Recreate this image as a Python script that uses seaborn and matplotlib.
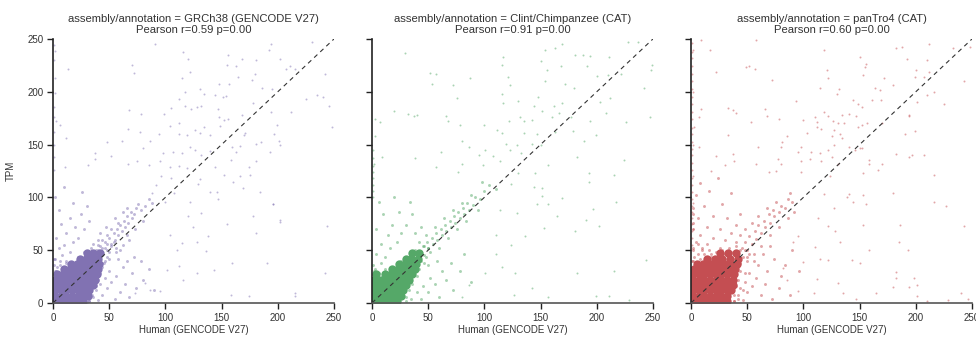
import matplotlib
matplotlib.use("Agg")
import matplotlib.pyplot as plt
import seaborn as sns

sns.set_style("ticks")
plt.rcParams["font.family"] = ["Liberation Sans", "DejaVu Sans"]

# ---- panel labels -------------------------------------------------------
assemblies = ["GRCh38 (GENCODE V27)", "Clint/Chimpanzee (CAT)", "panTro4 (CAT)"]
pearson_r = [0.59, 0.91, 0.60]
pearson_p = [0.00, 0.00, 0.00]
colors = ["#8172B2", "#55A868", "#C44E52"]
ticks = [0, 50, 100, 150, 200, 250]

# ---- GRCh38: scattered genes -------------------------------------------
grch38_x = [2, 91, 116, 120, 156, 168, 181, 192, 194, 202, 230, 13, 70, 72, 122, 155, 163, 165, 177, 180,
            207, 211, 215, 242, 2, 2, 115, 131, 134, 144, 148, 151, 157, 154, 186, 225, 235, 240, 246, 248,
            112, 117, 105, 117, 123, 128, 132, 147, 148, 156, 168, 178, 194, 212, 68, 78, 99, 6, 3, 12,
            48, 61, 67, 77, 86, 80, 94, 104, 112, 112, 119, 126, 131, 134, 140, 149, 152, 159, 166, 170,
            185, 197, 199, 201, 202, 98, 107, 115, 122, 126, 132, 140, 158, 163, 181, 193, 37, 37, 52, 31,
            67, 75, 85, 95, 104, 112, 144, 174, 11, 155, 181, 202, 244, 196, 169, 184, 166, 175, 152, 140,
            146, 129, 190, 174, 215, 215, 242, 159, 143, 136, 128, 138, 125, 120, 132, 122, 112, 116, 158, 101,
            95, 110, 115, 104, 128, 82, 73, 86, 178, 119, 131, 147, 160, 171, 181, 196, 202, 195, 105, 92,
            88, 100, 96, 108, 1, 1, 1, 1, 1, 1, 1, 1]
grch38_y = [239, 245, 238, 231, 235, 231, 230, 240, 245, 231, 247, 222, 225, 218, 219, 225, 224, 214, 211, 217,
            222, 224, 222, 217, 213, 199, 213, 203, 198, 197, 207, 195, 207, 196, 204, 193, 197, 195, 187, 167,
            193, 200, 185, 187, 184, 186, 187, 184, 176, 174, 178, 189, 181, 181, 183, 179, 179, 169, 172, 156,
            152, 153, 165, 162, 153, 147, 160, 168, 170, 160, 159, 164, 161, 167, 159, 168, 173, 148, 149, 159,
            152, 160, 169, 153, 150, 142, 143, 142, 148, 145, 140, 144, 135, 143, 134, 143, 142, 136, 139, 131,
            132, 134, 131, 134, 129, 130, 129, 129, 129, 75, 66, 77, 73, 94, 109, 105, 120, 121, 121, 105,
            105, 113, 38, 7, 9, 7, 28, 38, 31, 49, 58, 63, 72, 82, 85, 96, 35, 22, 8, 31,
            11, 50, 57, 64, 28, 19, 9, 12, 82, 128, 117, 98, 115, 161, 151, 94, 79, 203, 118, 112,
            104, 96, 120, 104, 126, 138, 150, 162, 176, 186, 230, 244]

# GRCh38: halo around the dense cloud
grch38_halo_x = [44, 48, 46, 52, 50, 55, 54, 58, 57, 61, 60, 64, 63, 67, 66, 70, 69, 72, 74, 78,
                 76, 82, 85, 88, 80, 73, 68, 62, 56, 50, 45, 60, 66, 58, 52, 48, 44, 40, 38, 36,
                 42, 47, 55, 62, 66, 3, 6, 2, 8, 12, 5, 10, 15, 18, 3, 12, 22, 7, 20, 28,
                 15, 25, 32, 5, 18, 30, 2, 10, 26, 32, 36, 40, 38, 44, 42, 48, 46, 52, 50, 56,
                 60, 55, 64, 62, 70, 68, 74, 80, 78, 72, 66, 85, 90, 58,
                 38, 34, 44, 40, 46, 36, 50, 48, 42, 30, 26, 20, 14, 8, 4, 2, 0.5, 1, 32, 35,
                 38, 40, 42, 44, 46, 30, 34, 36, 40, 52, 54, 56, 48, 44, 22, 12, 6, 28, 34, 40]
grch38_halo_y = [52, 50, 58, 56, 62, 60, 66, 64, 70, 68, 74, 72, 78, 76, 82, 80, 86, 84, 90, 88,
                 94, 92, 98, 95, 78, 70, 60, 55, 48, 42, 38, 50, 64, 76, 70, 64, 60, 55, 50, 56,
                 66, 72, 80, 86, 90, 30, 36, 42, 45, 40, 52, 55, 48, 58, 62, 66, 62, 75, 72, 70,
                 80, 84, 78, 88, 95, 92, 100, 110, 105, 2, 6, 3, 12, 8, 18, 14, 24, 20, 30, 26,
                 10, 4, 18, 34, 28, 6, 14, 22, 40, 44, 40, 32, 12, 42,
                 44, 42, 46, 50, 52, 48, 48, 56, 54, 44, 40, 38, 34, 32, 34, 30, 36, 42, 2, 8,
                 16, 22, 28, 34, 40, 0.5, 14, 20, 40, 54, 58, 52, 44, 38, 44, 38, 40, 48, 52, 60]

# GRCh38: dense low-expression cloud
grch38_core_x = [2, 7, 12, 17, 22, 27, 2, 7, 12, 17, 22, 27, 31, 2, 7, 12, 17, 22, 27, 32,
                 2, 7, 12, 17, 22, 27, 32, 36, 2, 7, 12, 17, 22, 27, 32, 37, 4, 9, 14, 19,
                 24, 29, 34, 39, 10, 15, 20, 25, 30, 35, 40, 16, 21, 26, 31, 36, 41, 24, 29, 34,
                 40, 30, 36, 42]
grch38_core_y = [2, 2, 2, 2, 2, 2, 7, 7, 7, 7, 7, 7, 7, 12, 12, 12, 12, 12, 12, 12,
                 17, 17, 17, 17, 17, 17, 17, 17, 22, 22, 22, 22, 22, 22, 22, 22, 27, 27, 27, 27,
                 27, 27, 27, 27, 32, 32, 32, 32, 32, 32, 32, 37, 37, 37, 37, 37, 37, 42, 42, 42,
                 42, 47, 47, 47]

# ---- Clint/Chimpanzee: scattered genes ---------------------------------
clint_x = [29, 117, 116, 154, 163, 169, 150, 156, 168, 181, 188, 194, 191, 211, 228, 237, 249, 248, 52, 57,
           53, 72, 87, 121, 123, 154, 172, 180, 200, 210, 222, 242, 76, 116, 117, 130, 144, 148, 162, 169,
           203, 212, 20, 32, 37, 40, 66, 68, 78, 3, 7, 3, 100, 111, 116, 122, 132, 135, 142, 151,
           160, 166, 177, 194, 208, 226, 247, 199, 189, 179, 163, 147, 135, 80, 61, 86, 95, 101, 108, 119,
           123, 129, 133, 142, 150, 182, 224, 157, 57, 80, 99, 114, 38, 9, 2, 77, 244, 215, 217, 202,
           181, 190, 197, 215, 193, 193, 169, 153, 165, 182, 199, 211, 229, 157, 142, 126, 127, 116, 110, 101,
           124, 136, 129, 147, 151, 157, 144, 124, 130, 145, 151, 114, 110, 86, 80, 1, 1, 1, 1, 1,
           1, 1, 1]
clint_y = [237, 233, 225, 240, 241, 245, 229, 221, 224, 235, 235, 234, 224, 233, 247, 247, 225, 221, 218, 217,
           207, 206, 213, 214, 206, 210, 207, 204, 215, 216, 217, 204, 194, 198, 189, 191, 187, 195, 187, 189,
           190, 194, 182, 179, 177, 178, 177, 172, 169, 174, 171, 158, 169, 164, 161, 172, 176, 172, 173, 182,
           176, 180, 176, 172, 180, 171, 176, 159, 153, 163, 162, 160, 161, 153, 143, 148, 140, 145, 139, 151,
           145, 150, 142, 151, 150, 138, 135, 131, 129, 132, 131, 134, 137, 138, 132, 124, 41, 30, 96, 73,
           68, 79, 89, 121, 115, 123, 99, 71, 82, 28, 7, 7, 3, 6, 14, 8, 28, 34, 46, 28,
           55, 63, 85, 94, 101, 94, 110, 113, 123, 123, 109, 88, 64, 17, 6, 100, 106, 112, 118, 124,
           130, 137, 145]

# Clint/Chimpanzee: halo around the dense cloud
clint_halo_x = [42, 46, 45, 50, 49, 54, 53, 58, 57, 62, 61, 66, 65, 70, 69, 74, 73, 78, 77, 82,
                81, 86, 85, 90, 92, 96, 100, 88, 80, 72, 64, 56, 48, 42, 60, 68, 76, 84, 94, 104,
                110, 98, 3, 8, 4, 12, 16, 8, 22, 14, 26, 4, 18, 30, 10, 24, 36, 6, 20, 34,
                44, 38, 35, 40, 44, 45, 50, 52, 56, 60, 62, 66, 72, 70, 78, 82, 88, 58, 50,
                36, 40, 44, 32, 28, 22, 16, 10, 6, 2, 1, 30, 33, 36, 40, 42, 46, 48, 30, 38,
                34, 26, 50, 52, 44, 20, 12, 40, 46, 28]
clint_halo_y = [48, 45, 54, 52, 58, 56, 62, 60, 66, 64, 70, 68, 74, 72, 78, 76, 82, 80, 86, 84,
                90, 88, 95, 93, 100, 98, 106, 102, 95, 88, 80, 72, 64, 58, 52, 62, 70, 78, 88, 112,
                108, 115, 32, 38, 46, 44, 52, 56, 58, 64, 66, 70, 74, 74, 84, 86, 84, 96, 100, 96,
                72, 66, 4, 10, 4, 16, 10, 24, 18, 6, 30, 22, 12, 38, 30, 46, 20, 40, 36,
                40, 44, 48, 38, 36, 34, 30, 28, 28, 30, 36, 6, 12, 18, 26, 32, 38, 44, 2, 50,
                46, 40, 52, 48, 40, 30, 32, 36, 54, 30]

# Clint/Chimpanzee: dense low-expression cloud
clint_core_x = [2, 7, 12, 17, 22, 2, 7, 12, 17, 22, 26, 3, 8, 13, 18, 23, 28, 1, 5, 10,
                15, 20, 25, 30, 2, 8, 13, 18, 23, 28, 33, 4, 12, 17, 22, 27, 32, 36, 18, 23,
                28, 33, 38, 24, 29, 34, 39, 30, 35, 41, 36, 42]
clint_core_y = [2, 2, 2, 2, 2, 7, 7, 7, 7, 7, 7, 12, 12, 12, 12, 12, 12, 17, 17, 17,
                17, 17, 17, 17, 22, 22, 22, 22, 22, 22, 22, 27, 27, 27, 27, 27, 27, 27, 32, 32,
                32, 32, 32, 37, 37, 37, 37, 42, 42, 42, 47, 47]

# ---- panTro4: scattered genes -------------------------------------------
pantro4_x = [9, 58, 2, 17, 49, 52, 57, 22, 72, 118, 150, 156, 155, 121, 122, 153, 182, 188, 212, 233,
             248, 192, 210, 200, 212, 172, 180, 199, 207, 243, 115, 132, 164, 168, 130, 144, 161, 169, 210, 216,
             225, 149, 152, 201, 93, 33, 37, 40, 66, 68, 9, 7, 78, 53, 33, 7, 3, 100, 110, 118,
             122, 126, 134, 141, 147, 131, 136, 112, 112, 116, 127, 152, 149, 157, 170, 194, 194, 190, 199, 85,
             103, 125, 134, 133, 150, 152, 146, 141, 127, 122, 115, 107, 98, 95, 81, 80, 98, 106, 116, 125,
             131, 158, 158, 170, 182, 194, 197, 207, 60, 37, 38, 22, 30, 58, 77, 80, 69, 76, 98, 18,
             243, 227, 216, 180, 156, 153, 186, 185, 193, 182, 182, 194, 201, 201, 210, 229, 240, 246, 158, 143,
             150, 133, 128, 122, 139, 144, 127, 153, 166, 153, 216, 118, 113, 110, 115, 122, 131, 135, 147, 112,
             100, 109, 165, 180, 198, 85, 95, 82, 91, 95, 124, 141,
             0.5, 0.5, 0.5, 0.5, 0.5, 0.5, 0.5, 0.5, 0.5, 0.5, 0.5, 0.5, 0.5, 0.5, 0.5, 0.5, 0.5, 0.5, 0.5, 0.5,
             0.5, 0.5, 0.5, 0.5, 0.5, 0.5, 0.5, 0.5, 0.5, 1.5, 1.5, 1.5, 1.5, 1.5]
pantro4_y = [249, 249, 240, 240, 223, 224, 222, 219, 211, 240, 233, 226, 223, 221, 213, 216, 241, 242, 245, 241,
             242, 231, 230, 221, 219, 213, 206, 214, 214, 210, 204, 203, 204, 202, 198, 192, 192, 192, 197, 200,
             188, 188, 186, 190, 191, 185, 183, 180, 184, 177, 184, 176, 174, 171, 159, 148, 167, 173, 176, 181,
             177, 172, 178, 179, 177, 170, 170, 171, 167, 165, 164, 169, 167, 170, 170, 178, 177, 160, 163, 158,
             161, 158, 156, 160, 147, 147, 145, 148, 150, 145, 142, 143, 148, 143, 152, 148, 134, 136, 134, 138,
             132, 135, 132, 132, 141, 138, 140, 140, 148, 141, 134, 139, 131, 132, 136, 132, 124, 125, 124, 125,
             73, 92, 96, 104, 94, 74, 74, 58, 50, 29, 24, 15, 17, 7, 2, 3, 9, 4, 50, 41,
             38, 58, 68, 73, 100, 96, 90, 102, 126, 123, 121, 103, 80, 53, 42, 41, 19, 9, 4, 23,
             39, 9, 9, 15, 24, 22, 11, 33, 58, 63, 120, 103,
             55, 62, 68, 75, 80, 86, 92, 98, 105, 112, 118, 126, 133, 140, 146, 152, 160, 166, 174, 181,
             188, 195, 203, 210, 217, 224, 232, 238, 246, 70, 95, 120, 150, 200]

# panTro4: halo around the dense cloud
pantro4_halo_x = [45, 50, 48, 54, 52, 58, 57, 62, 60, 66, 65, 70, 69, 74, 73, 78, 80, 84, 86, 90,
                  88, 76, 68, 60, 54, 48, 44, 40, 62, 70, 78, 86, 92, 56, 50, 2, 6, 2, 10, 4,
                  14, 8, 20, 2, 14, 26, 6, 20, 32, 2, 12, 28, 4, 16, 36, 8, 24, 2, 2, 18,
                  26, 30, 36, 40, 44, 38, 42, 46, 44, 50, 48, 54, 52, 58, 62, 60, 66, 68, 72, 74,
                  78, 80, 84, 88, 64, 56, 90, 96, 70,
                  0.5, 3, 8, 12, 18, 22, 28, 34, 40, 44, 46, 44, 44, 42, 40, 38, 38, 42, 46, 48,
                  50, 2, 6, 10, 16, 30, 36, 48, 52, 42]
pantro4_halo_y = [52, 50, 58, 56, 63, 61, 68, 66, 74, 72, 78, 76, 84, 82, 88, 86, 92, 90, 98, 96,
                  104, 96, 90, 82, 76, 70, 64, 58, 54, 64, 72, 80, 86, 46, 44, 40, 46, 52, 50, 58,
                  56, 64, 62, 70, 72, 70, 80, 82, 80, 90, 92, 94, 102, 106, 104, 114, 118, 76, 84, 46,
                  52, 60, 66, 74, 84, 2, 8, 3, 14, 10, 20, 16, 28, 24, 8, 36, 18, 30, 4, 42,
                  14, 26, 36, 8, 46, 40, 50, 30, 54,
                  40, 44, 42, 46, 44, 48, 50, 52, 54, 50, 44, 38, 30, 22, 16, 8, 2, 4, 12, 28,
                  40, 50, 56, 52, 50, 46, 48, 50, 46, 46]

# panTro4: dense low-expression cloud
pantro4_core_x = [2, 7, 12, 17, 22, 27, 32, 2, 7, 12, 17, 22, 27, 32, 2, 7, 12, 17, 22, 27,
                  32, 36, 2, 7, 12, 17, 22, 27, 32, 37, 2, 7, 12, 17, 22, 27, 32, 37, 2, 7,
                  12, 17, 22, 27, 32, 38, 3, 9, 14, 19, 24, 29, 34, 39, 5, 11, 17, 23, 29, 35,
                  41, 14, 21, 28, 35, 42, 26, 33, 40]
pantro4_core_y = [2, 2, 2, 2, 2, 2, 2, 7, 7, 7, 7, 7, 7, 7, 12, 12, 12, 12, 12, 12,
                  12, 12, 17, 17, 17, 17, 17, 17, 17, 17, 22, 22, 22, 22, 22, 22, 22, 22, 27, 27,
                  27, 27, 27, 27, 27, 27, 32, 32, 32, 32, 32, 32, 32, 32, 37, 37, 37, 37, 37, 37,
                  37, 42, 42, 42, 42, 42, 47, 47, 47]

panels = [
    (grch38_x, grch38_y, grch38_halo_x, grch38_halo_y, grch38_core_x, grch38_core_y),
    (clint_x, clint_y, clint_halo_x, clint_halo_y, clint_core_x, clint_core_y),
    (pantro4_x, pantro4_y, pantro4_halo_x, pantro4_halo_y, pantro4_core_x, pantro4_core_y),
]

fig = plt.figure(figsize=(9.76, 3.38), dpi=100)
lefts = [0.0543, 0.3811, 0.7080]
width, bottom, height = 0.2879, 0.1036, 0.7811

for i, (name, r, p, col, data) in enumerate(zip(assemblies, pearson_r, pearson_p, colors, panels)):
    ax = fig.add_axes([lefts[i], bottom, width, height])
    sx, sy, hx, hy, cx, cy = data
    # opaque discs merge into the dense cloud near the origin
    sns.scatterplot(x=cx, y=cy, s=36, color=col, alpha=1.0, linewidth=0, ax=ax)
    sns.scatterplot(x=hx, y=hy, s=4.5, color=col, alpha=0.5, linewidth=0, ax=ax)
    sns.scatterplot(x=sx, y=sy, s=2, color=col, alpha=0.5, linewidth=0, ax=ax)
    ax.plot([0, 250], [0, 250], color="#333333", lw=0.8, ls=(0, (4, 3.5)))
    ax.set_xlim(0, 250)
    ax.set_ylim(0, 250)
    ax.set_xticks(ticks)
    ax.set_yticks(ticks)
    ax.tick_params(labelsize=7, length=4, width=1, color="#222222", labelcolor="#333333", pad=3)
    if i == 0:
        ax.set_ylabel("TPM", fontsize=7, color="#333333", labelpad=8)
    else:
        ax.set_yticklabels([])
        ax.set_ylabel("")
    ax.set_xlabel("Human (GENCODE V27)", fontsize=7, color="#333333", labelpad=2)
    ax.set_title(f"assembly/annotation = {name}\nPearson r={r:.2f} p={p:.2f}",
                 fontsize=8.1, color="#333333", pad=4, linespacing=1.2)
    for side in ("top", "right"):
        ax.spines[side].set_visible(False)
    ax.spines["left"].set_color("#222222")
    ax.spines["bottom"].set_color("#555555")
    for sp in ("left", "bottom"):
        ax.spines[sp].set_linewidth(1.2)

fig.savefig("out.png", dpi=100)
